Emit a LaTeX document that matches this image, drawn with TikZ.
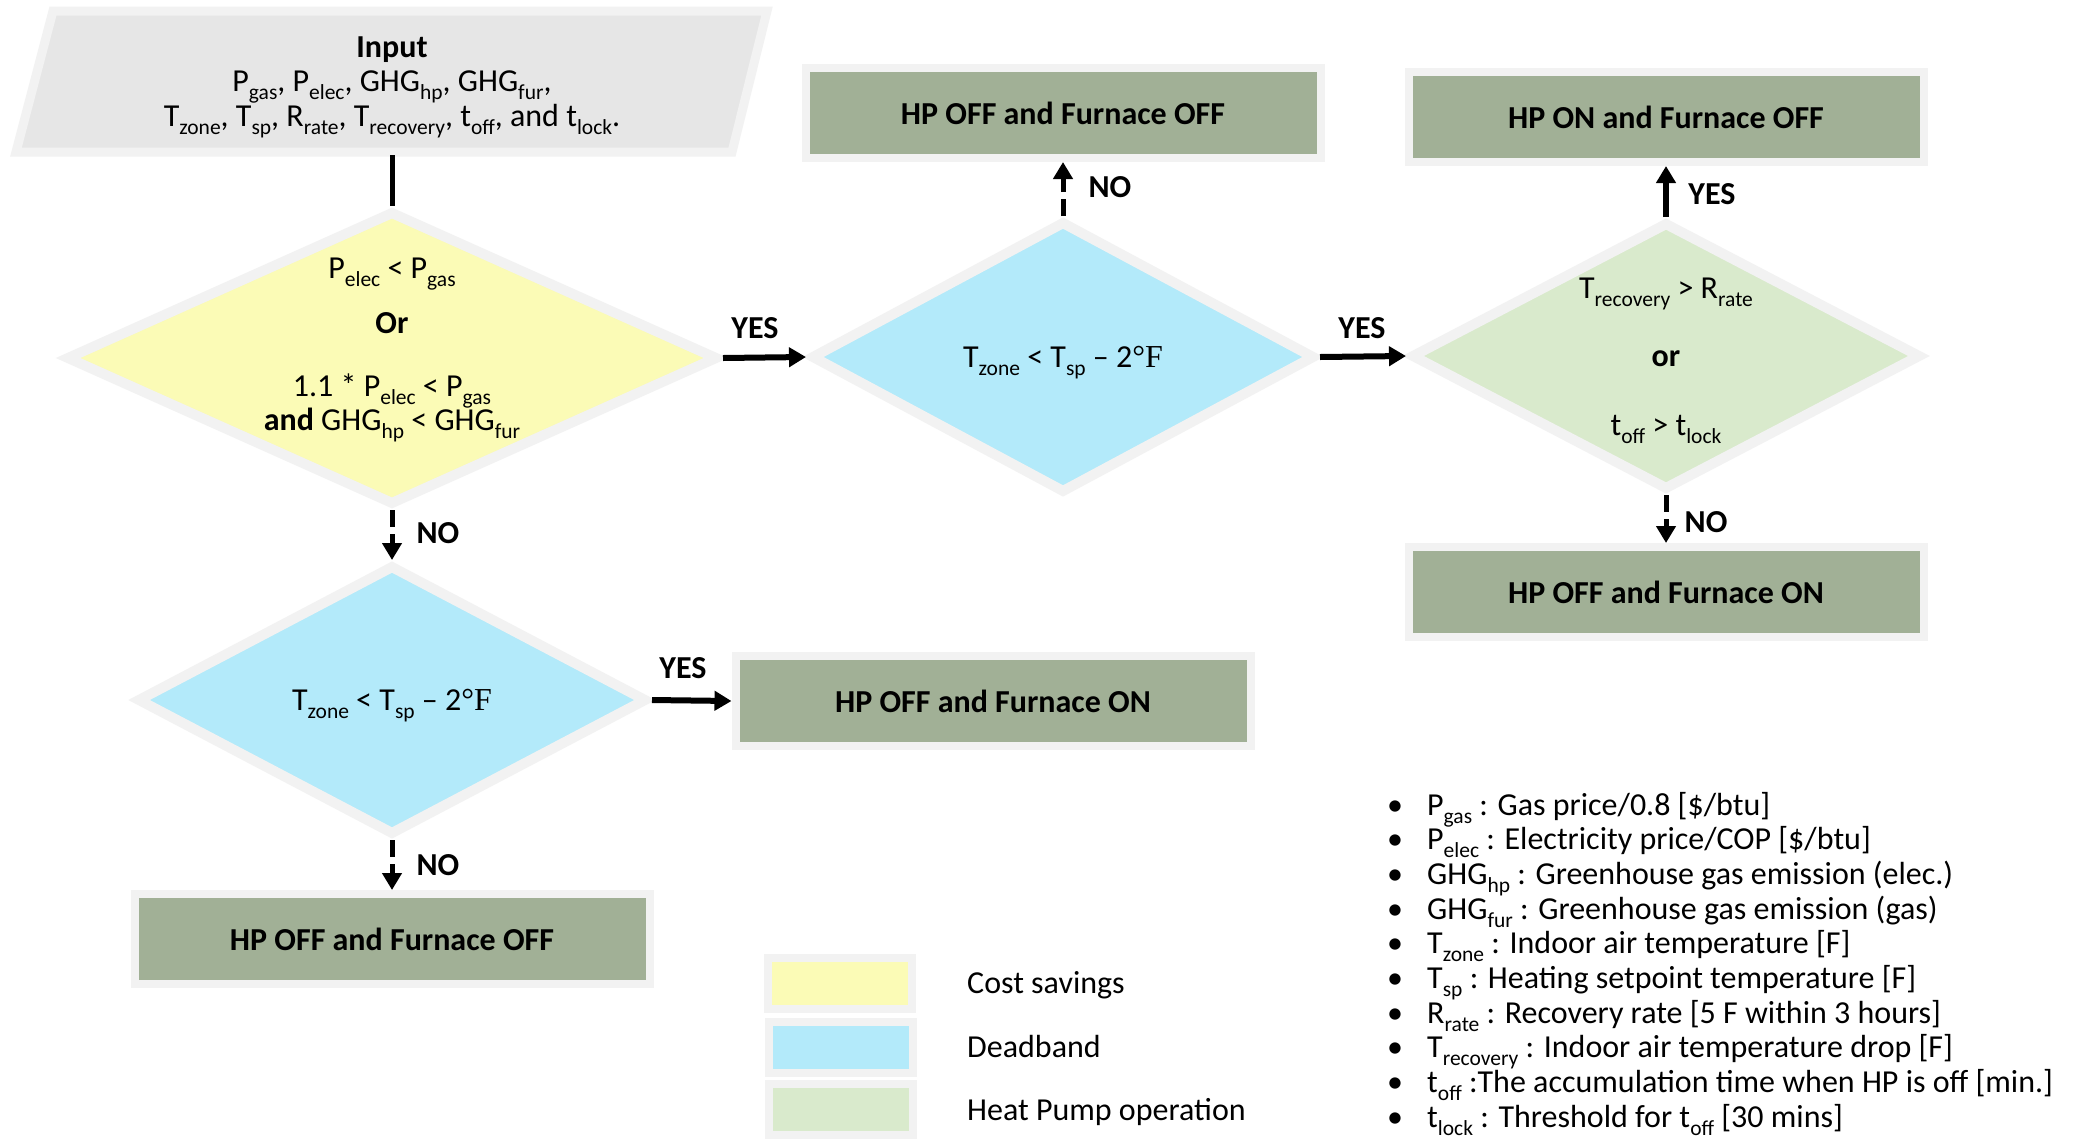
\documentclass[tikz,border=0pt]{standalone}
\usepackage{fontspec}
\setmainfont{Carlito}
\newfontfamily\serifF{Liberation Serif}
\usetikzlibrary{shapes.geometric,arrows.meta}
\definecolor{bordc}{HTML}{F2F2F2}
\definecolor{inpfill}{HTML}{E6E6E6}
\definecolor{yelfill}{HTML}{FBFBB6}
\definecolor{bluefill}{HTML}{B3EAFA}
\definecolor{grnfill}{HTML}{D9EACC}
\definecolor{sage}{HTML}{A1B096}
\newcommand\sbs[1]{\smash{\raisebox{-8pt}{\fontsize{21.5}{21.5}\selectfont #1}}}
\newcommand\bul{\makebox[40pt][l]{•}}
\begin{document}
\begin{tikzpicture}[x=1pt,y=-1pt,
  every node/.style={inner sep=0pt, font=\fontsize{32}{35}\selectfont},
  actbox/.style={rectangle, fill=sage, draw=bordc, line width=8pt, minimum width=515pt, minimum height=90pt, font=\bfseries\fontsize{32}{35}\selectfont},
  dia/.style={diamond, draw=bordc, line width=10pt, inner sep=0pt},
  legbox/.style={rectangle, draw=bordc, line width=8pt, minimum width=144pt, minimum height=51pt},
  lbl/.style={font=\bfseries\fontsize{32}{35}\selectfont},
  solidarr/.style={line width=6pt, -{Triangle[length=17pt,width=19pt]}},
  dasharr/.style={line width=5pt, dash pattern=on 17pt off 7pt, -{Triangle[length=17pt,width=19pt]}}
]
\useasboundingbox (0,0) rectangle (2074,1138);
\fill[white] (0,0) rectangle (2074,1138);

% input parallelogram
\draw[fill=inpfill, draw=bordc, line width=9pt] (53,11) -- (767,11) -- (732,152) -- (16,152) -- cycle;
\node[anchor=base] (in1) at (392,57) {\textbf{Input}};
\node[anchor=base] (in2) at (392,91) {P\sbs{gas}, P\sbs{elec}, GHG\sbs{hp}, GHG\sbs{fur},};
\node[anchor=base] (in3) at (392,126) {T\sbs{zone}, T\sbs{sp}, R\sbs{rate}, T\sbs{recovery}, t\sbs{off}, and t\sbs{lock}.};
\coordinate (inbot) at (392,155);

% diamonds
\node[dia, fill=yelfill, minimum width=652pt, minimum height=294pt] (y1) at (392,358) {};
\node[dia, fill=bluefill, minimum width=504pt, minimum height=272pt] (b1) at (1063,357) {};
\node[dia, fill=grnfill, minimum width=510pt, minimum height=268pt] (g1) at (1666,356) {};
\node[dia, fill=bluefill, minimum width=510pt, minimum height=270pt] (b2) at (392,700) {};

% diamond texts
\node[anchor=base] (y1t1) at (392,278) {P\sbs{elec} < P\sbs{gas}};
\node[anchor=base] (y1t2) at (392,333) {\textbf{Or}};
\node[anchor=base] (y1t3) at (392,396) {1.1 * P\sbs{elec} < P\sbs{gas}};
\node[anchor=base] (y1t4) at (392,430) {\textbf{and} GHG\sbs{hp} < GHG\sbs{fur}};
\node[anchor=base] (b1t) at (1063,367) {T\sbs{zone} < T\sbs{sp} – 2{\serifF °F}};
\node[anchor=base] (g1t1) at (1666,298) {T\sbs{recovery} > R\sbs{rate}};
\node[anchor=base] (g1t2) at (1666,366) {\textbf{or}};
\node[anchor=base] (g1t3) at (1666,435) {t\sbs{off} > t\sbs{lock}};
\node[anchor=base] (b2t) at (392,710) {T\sbs{zone} < T\sbs{sp} – 2{\serifF °F}};

% action boxes
\node[actbox] (boxA) at (1063,113) {HP OFF and Furnace OFF};
\node[actbox] (boxB) at (1666,117) {HP ON and Furnace OFF};
\node[actbox] (boxC) at (1666,592) {HP OFF and Furnace ON};
\node[actbox] (boxD) at (993,701) {HP OFF and Furnace ON};
\node[actbox] (boxE) at (392,939) {HP OFF and Furnace OFF};

% connectors
\draw[line width=5pt] (inbot) -- (y1.north);
\draw[solidarr] (y1.east) -- (b1.west);
\draw[dasharr] (b1.north) -- (boxA.south);
\draw[solidarr] (b1.east) -- (g1.west);
\draw[solidarr] (g1.north) -- (boxB.south);
\draw[dasharr] (g1.south) -- (boxC.north);
\draw[dasharr] (y1.south) -- (b2.north);
\draw[solidarr] (b2.east) -- (boxD.west);
\draw[dasharr] (b2.south) -- (boxE.north);

% labels
\node[lbl] (l1) at (755,328) {YES};
\node[lbl] (l2) at (1110,187) {NO};
\node[lbl] (l3) at (1362,328) {YES};
\node[lbl] (l4) at (1712,194) {YES};
\node[lbl] (l5) at (1706,522) {NO};
\node[lbl] (l6) at (438,533) {NO};
\node[lbl] (l7) at (683,668) {YES};
\node[lbl] (l8) at (438,865) {NO};

% legend
\node[legbox, fill=yelfill] (k1) at (840,983) {};
\node[legbox, fill=bluefill] (k2) at (841,1047) {};
\node[legbox, fill=grnfill] (k3) at (841,1109) {};
\node[anchor=base west] (k1t) at (967,993) {Cost savings};
\node[anchor=base west] (k2t) at (967,1057) {Deadband};
\node[anchor=base west] (k3t) at (967,1120) {Heat Pump operation};

% variable list
\node[anchor=base west] (v1) at (1387,815) {\bul P\sbs{gas} : Gas price/0.8 [\$/btu]};
\node[anchor=base west] (v2) at (1387,849.7) {\bul P\sbs{elec} : Electricity price/COP [\$/btu]};
\node[anchor=base west] (v3) at (1387,884.4) {\bul GHG\sbs{hp} : Greenhouse gas emission (elec.)};
\node[anchor=base west] (v4) at (1387,919.1) {\bul GHG\sbs{fur} : Greenhouse gas emission (gas)};
\node[anchor=base west] (v5) at (1387,953.8) {\bul T\sbs{zone} : Indoor air temperature [F]};
\node[anchor=base west] (v6) at (1387,988.5) {\bul T\sbs{sp} : Heating setpoint temperature [F]};
\node[anchor=base west] (v7) at (1387,1023.2) {\bul R\sbs{rate} : Recovery rate [5 F within 3 hours]};
\node[anchor=base west] (v8) at (1387,1057.9) {\bul T\sbs{recovery} : Indoor air temperature drop [F]};
\node[anchor=base west] (v9) at (1387,1092.6) {\bul t\sbs{off} :The accumulation time when HP is off [min.]};
\node[anchor=base west] (v10) at (1387,1127.3) {\bul t\sbs{lock} : Threshold for t\sbs{off} [30 mins]};
\end{tikzpicture}
\end{document}
